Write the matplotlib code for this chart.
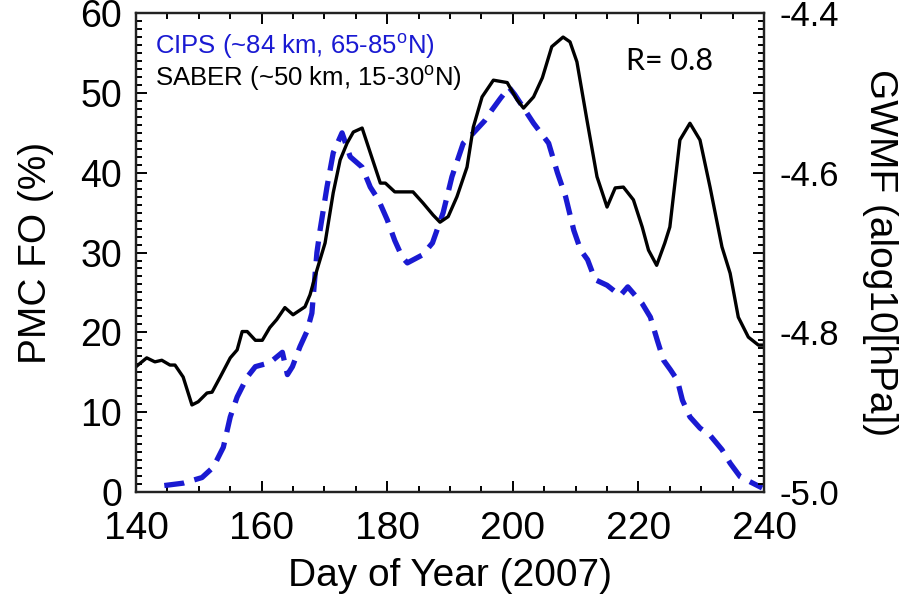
import numpy as np
import matplotlib
matplotlib.use("Agg")
from matplotlib import pyplot as plt
from matplotlib.ticker import MultipleLocator, FuncFormatter

plt.rcParams['font.family'] = ['Liberation Sans', 'DejaVu Sans']
plt.rcParams['mathtext.fontset'] = 'custom'
plt.rcParams['mathtext.rm'] = 'Liberation Sans'

# CIPS PMC frequency of occurrence (%), left axis
cips_day = [144.5, 147.5, 150.5, 152.3, 153.9, 155.0, 156.1, 157.7, 159.0, 161.3,
            163.3, 164.1, 164.9, 166.1, 167.2, 168.0, 168.8, 169.3, 170.4, 171.4,
            172.8, 174.1, 176.0, 177.3, 178.6, 180.0, 181.2, 182.4, 183.2, 185.6,
            187.2, 188.9, 190.3, 192.1, 193.5, 195.5, 196.7, 198.0, 199.4, 200.3,
            203.3, 205.7, 207.1, 208.4, 209.7, 210.8, 211.9, 213.1, 215.0, 217.1,
            218.3, 220.6, 221.9, 223.0, 224.0, 225.1, 226.2, 227.0, 228.2, 229.8,
            231.4, 233.3, 234.6, 236.2, 238.2, 239.7]
cips_fo = [0.8, 1.1, 1.8, 3.1, 5.6, 9.4, 11.9, 14.4, 15.7, 16.2,
           17.5, 14.7, 15.7, 18.2, 20.1, 22.4, 30.0, 32.8, 38.2, 42.5,
           45.0, 42.0, 40.7, 38.2, 36.6, 34.1, 31.5, 29.4, 28.7, 29.7,
           31.2, 35.0, 39.5, 43.7, 44.8, 46.5, 47.9, 49.3, 50.7, 49.8,
           46.2, 43.7, 40.0, 37.0, 32.8, 30.3, 29.1, 26.6, 25.9, 24.6,
           25.7, 23.6, 21.9, 19.0, 16.5, 15.3, 14.0, 11.5, 9.4, 8.0,
           7.1, 5.3, 3.6, 1.9, 1.1, 0.5]

# SABER GWMF (alog10[hPa]), right axis
saber_day = [140.0, 141.7, 143.0, 144.1, 145.4, 146.2, 147.5, 148.9, 149.9, 151.3,
             152.1, 153.4, 155.0, 156.1, 156.9, 157.7, 159.0, 160.1, 161.3, 162.4,
             163.7, 165.0, 166.9, 167.7, 168.8, 170.1, 171.4, 172.5, 173.6, 174.6,
             176.0, 177.3, 178.9, 179.7, 181.2, 184.1, 185.7, 187.3, 188.4, 189.7,
             191.1, 192.7, 193.7, 195.1, 196.9, 199.1, 200.7, 201.7, 203.3, 204.7,
             206.2, 208.0, 209.1, 210.2, 211.8, 213.4, 215.0, 216.3, 217.6, 219.2,
             220.6, 221.6, 222.9, 224.2, 225.0, 226.6, 228.2, 229.8, 231.4, 233.3,
             234.6, 235.9, 237.5, 239.1, 240.0]
saber_gwmf = [-4.843, -4.832, -4.837, -4.835, -4.841, -4.841, -4.856, -4.891, -4.887, -4.876,
              -4.875, -4.856, -4.832, -4.822, -4.799, -4.799, -4.810, -4.810, -4.794, -4.784,
              -4.769, -4.778, -4.768, -4.753, -4.722, -4.688, -4.625, -4.584, -4.563, -4.549,
              -4.544, -4.575, -4.613, -4.613, -4.624, -4.624, -4.638, -4.653, -4.662, -4.655,
              -4.630, -4.593, -4.543, -4.505, -4.484, -4.487, -4.509, -4.519, -4.505, -4.481,
              -4.442, -4.430, -4.436, -4.461, -4.534, -4.605, -4.643, -4.619, -4.618, -4.634,
              -4.668, -4.697, -4.716, -4.688, -4.668, -4.559, -4.538, -4.559, -4.618, -4.693,
              -4.726, -4.781, -4.806, -4.816, -4.816]

fig = plt.figure(figsize=(9.01, 5.97), dpi=100)
ax1 = fig.add_axes([0.151, 0.176, 0.697, 0.802])
ax2 = ax1.twinx()

blue = '#1a1ad2'
line_cips, = ax1.plot(cips_day, cips_fo, color=blue, lw=3.8, dash_capstyle='butt')
line_cips.set_dashes((3.8, 2.0))
ax2.plot(saber_day, saber_gwmf, color='black', lw=2.4, solid_joinstyle='round')

ax1.set_xlim(140, 240)
ax1.set_ylim(0, 60)
ax2.set_ylim(-5.0, -4.4)

ax1.xaxis.set_major_locator(MultipleLocator(20))
ax1.xaxis.set_minor_locator(MultipleLocator(5))
ax1.yaxis.set_major_locator(MultipleLocator(10))
ax1.yaxis.set_minor_locator(MultipleLocator(1))
ax2.yaxis.set_major_locator(MultipleLocator(0.1))
ax2.yaxis.set_minor_locator(MultipleLocator(0.01))


def right_fmt(v, pos):
    # only every second major tick gets a label
    k = int(round(v * 10))
    return f'{v:.1f}' if k % 2 == 0 else ''


ax2.yaxis.set_major_formatter(FuncFormatter(right_fmt))

ax1.tick_params(axis='x', which='both', direction='in', top=True, bottom=True,
                width=1.4, labelsize=28, pad=14)
ax1.tick_params(axis='x', which='major', length=8)
ax1.tick_params(axis='x', which='minor', length=4.5)
ax1.tick_params(axis='y', which='both', direction='in', left=True, right=False,
                width=1.4, labelsize=27, pad=10)
ax1.tick_params(axis='y', which='major', length=8)
ax1.tick_params(axis='y', which='minor', length=4.5)
ax2.tick_params(axis='y', which='both', direction='in', width=1.4, labelsize=25, pad=11)
ax2.tick_params(axis='y', which='major', length=8)
ax2.tick_params(axis='y', which='minor', length=4.5)

for ax in (ax1, ax2):
    for sp in ax.spines.values():
        sp.set_linewidth(1.6)
        sp.set_color('#222222')

ax1.set_xlabel('Day of Year (2007)', fontsize=28, va='center')
ax1.xaxis.set_label_coords(0.5, -0.175)
ax1.set_ylabel('PMC FO (%)', fontsize=28, va='center')
ax1.yaxis.set_label_coords(-0.16, 0.5)
ax2.set_ylabel('GWMF (alog10[hPa])', fontsize=28, rotation=-90, va='center')
ax2.yaxis.set_label_coords(1.185, 0.5)

ax1.text(0.03, 0.93, 'CIPS (~84 km, 65-85$^{\\mathrm{o}}$N)', transform=ax1.transAxes,
         color=blue, fontsize=18.5, va='center', ha='left')
ax1.text(0.03, 0.865, 'SABER (~50 km, 15-30$^{\\mathrm{o}}$N)', transform=ax1.transAxes,
         color='black', fontsize=18.5, va='center', ha='left')
ax1.text(0.78, 0.90, 'R= 0.8', transform=ax1.transAxes, fontsize=22,
         family=['Lato', 'DejaVu Sans'], va='center', ha='left')

fig.savefig('out.png', dpi=100)
